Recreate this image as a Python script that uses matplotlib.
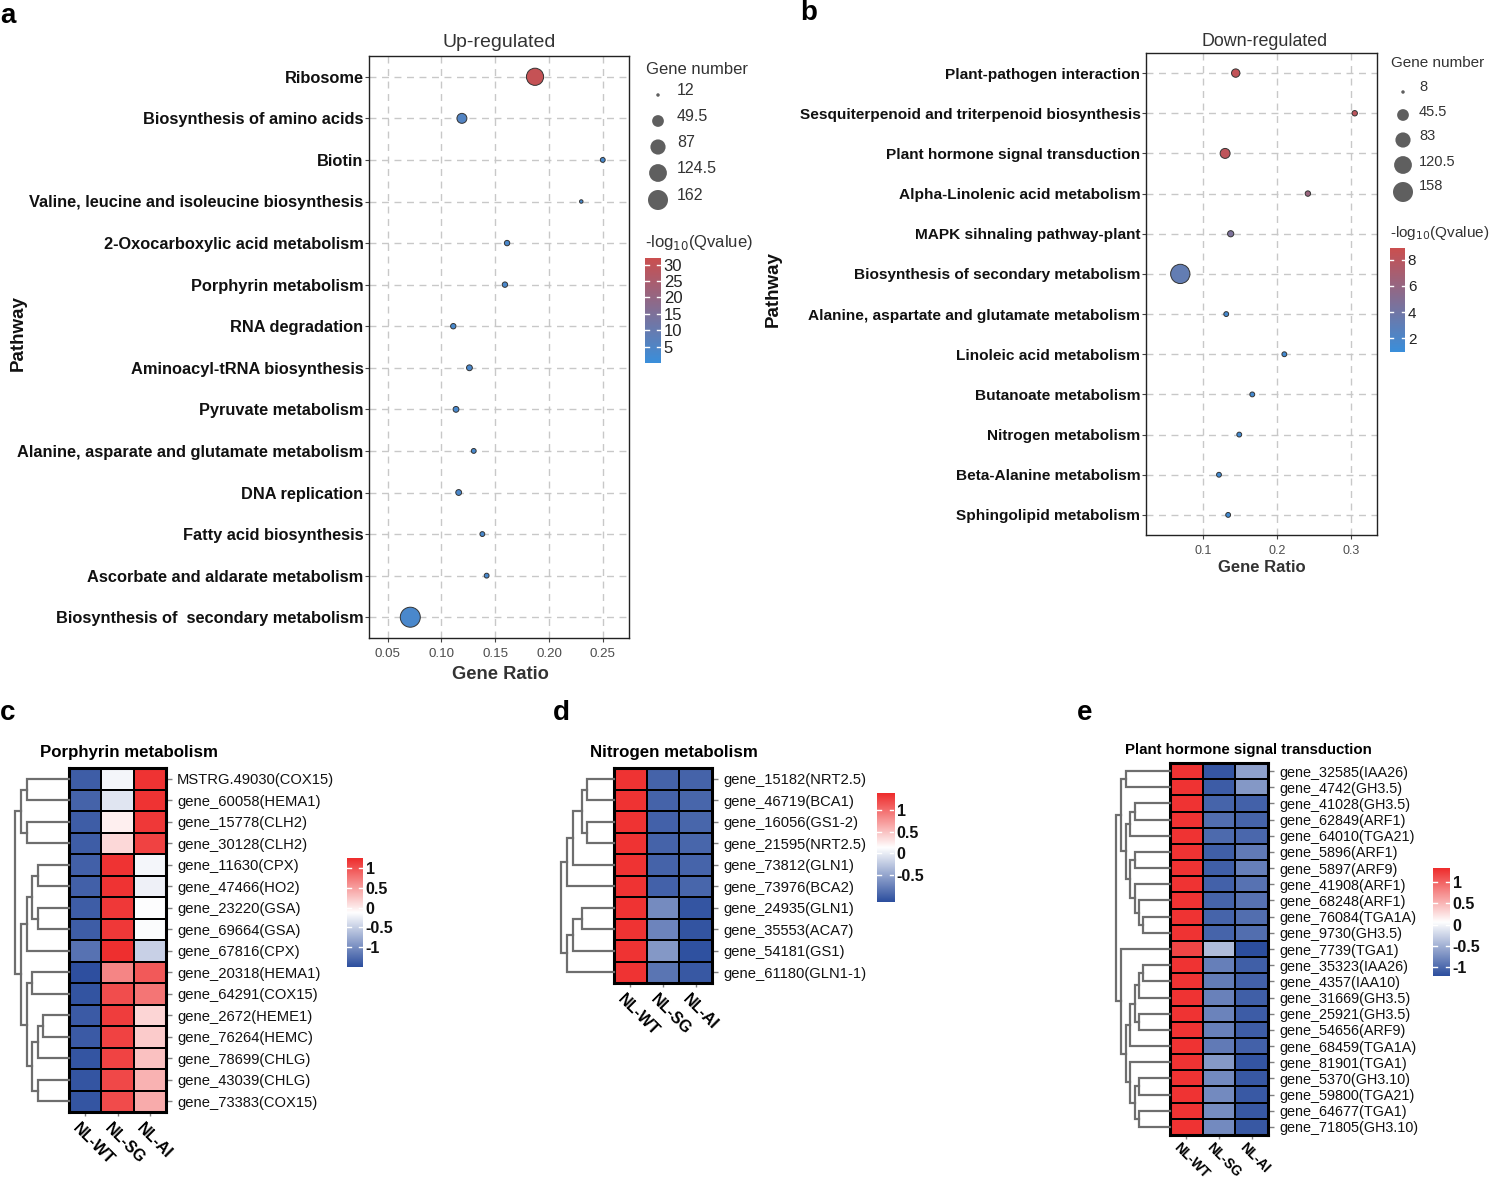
import matplotlib as mpl
import matplotlib.pyplot as plt
import numpy as np
from matplotlib.colors import LinearSegmentedColormap, Normalize

plt.rcParams['font.family'] = ['Liberation Sans', 'DejaVu Sans']

# ---------------- data: KEGG enrichment bubbles ----------------
up_terms = ['Ribosome', 'Biosynthesis of amino acids', 'Biotin',
            'Valine, leucine and isoleucine biosynthesis',
            '2-Oxocarboxylic acid metabolism', 'Porphyrin metabolism',
            'RNA degradation', 'Aminoacyl-tRNA biosynthesis',
            'Pyruvate metabolism', 'Alanine, asparate and glutamate metabolism',
            'DNA replication', 'Fatty acid biosynthesis',
            'Ascorbate and aldarate metabolism',
            'Biosynthesis of  secondary metabolism']
up_ratio = [0.187, 0.119, 0.250, 0.230, 0.161, 0.159, 0.111, 0.126,
            0.1135, 0.130, 0.116, 0.138, 0.142, 0.071]
up_count = [115, 35, 13, 12, 14, 14, 14, 15, 15, 13, 15, 13, 13, 162]
up_q = [30.5, 5.5, 3.0, 2.5, 3.5, 3.5, 3.0, 3.5, 3.0, 3.0, 3.5, 3.0, 3.0, 3.5]
up_size_breaks = [12, 49.5, 87, 124.5, 162]

down_terms = ['Plant-pathogen interaction',
              'Sesquiterpenoid and triterpenoid biosynthesis',
              'Plant hormone signal transduction',
              'Alpha-Linolenic acid metabolism',
              'MAPK sihnaling pathway-plant',
              'Biosynthesis of secondary metabolism',
              'Alanine, aspartate and glutamate metabolism',
              'Linoleic acid metabolism', 'Butanoate metabolism',
              'Nitrogen metabolism', 'Beta-Alanine metabolism',
              'Sphingolipid metabolism']
down_ratio = [0.1438, 0.3046, 0.1295, 0.2413, 0.137, 0.0689, 0.131,
              0.2095, 0.1662, 0.1486, 0.1212, 0.1336]
down_count = [21, 10, 31, 10, 12, 145, 9, 9, 9, 9, 9, 9]
down_q = [8.4, 8.1, 8.2, 6.2, 4.6, 3.2, 1.6, 1.4, 1.5, 1.5, 1.4, 1.4]
down_size_breaks = [8, 45.5, 83, 120.5, 158]

# ---------------- data: heatmaps ----------------
samples = ['NL-WT', 'NL-SG', 'NL-AI']

por_genes = ['MSTRG.49030(COX15)', 'gene_60058(HEMA1)', 'gene_15778(CLH2)',
             'gene_30128(CLH2)', 'gene_11630(CPX)', 'gene_47466(HO2)',
             'gene_23220(GSA)', 'gene_69664(GSA)', 'gene_67816(CPX)',
             'gene_20318(HEMA1)', 'gene_64291(COX15)', 'gene_2672(HEME1)',
             'gene_76264(HEMC)', 'gene_78699(CHLG)', 'gene_43039(CHLG)',
             'gene_73383(COX15)']
por_vals = [[-1.38, -0.20, 1.20], [-1.33, -0.32, 1.20], [-1.38, -0.02, 1.17],
            [-1.38, 0.13, 1.10], [-1.35, 1.20, -0.20], [-1.35, 1.20, -0.24],
            [-1.38, 1.17, -0.14], [-1.38, 1.17, -0.15], [-1.22, 1.22, -0.48],
            [-1.48, 0.66, 0.95], [-1.45, 1.03, 0.77], [-1.40, 1.14, 0.15],
            [-1.40, 1.10, 0.21], [-1.44, 1.09, 0.28], [-1.44, 1.06, 0.37],
            [-1.44, 1.04, 0.42]]
por_merges = [(0, 1, 42.3), (2, 3, 42.3), (16, 17, 48), (4, 5, 31.3),
              (6, 7, 31.3), (19, 20, 37), (21, 8, 42.3), (9, 10, 37),
              (11, 12, 26.3), (24, 13, 31.3), (14, 15, 31.3), (25, 26, 37),
              (23, 27, 42.3), (22, 28, 48), (18, 29, 53.7)]

nit_genes = ['gene_15182(NRT2.5)', 'gene_46719(BCA1)', 'gene_16056(GS1-2)',
             'gene_21595(NRT2.5)', 'gene_73812(GLN1)', 'gene_73976(BCA2)',
             'gene_24935(GLN1)', 'gene_35553(ACA7)', 'gene_54181(GS1)',
             'gene_61180(GLN1-1)']
nit_vals = [[1.35, -0.97, -0.97], [1.35, -0.97, -0.95], [1.35, -0.98, -0.95],
            [1.35, -0.97, -0.95], [1.35, -0.97, -0.96], [1.35, -0.98, -0.95],
            [1.35, -0.68, -1.07], [1.35, -0.73, -1.08], [1.35, -0.60, -1.10],
            [1.35, -0.84, -1.05]]
nit_merges = [(0, 1, 26.7), (2, 3, 26.7), (10, 11, 32.3), (12, 4, 41),
              (13, 5, 46.7), (6, 7, 32.3), (15, 8, 41), (16, 9, 46.7),
              (14, 17, 53.3)]

hor_genes = ['gene_32585(IAA26)', 'gene_4742(GH3.5)', 'gene_41028(GH3.5)',
             'gene_62849(ARF1)', 'gene_64010(TGA21)', 'gene_5896(ARF1)',
             'gene_5897(ARF9)', 'gene_41908(ARF1)', 'gene_68248(ARF1)',
             'gene_76084(TGA1A)', 'gene_9730(GH3.5)', 'gene_7739(TGA1)',
             'gene_35323(IAA26)', 'gene_4357(IAA10)', 'gene_31669(GH3.5)',
             'gene_25921(GH3.5)', 'gene_54656(ARF9)', 'gene_68459(TGA1A)',
             'gene_81901(TGA1)', 'gene_5370(GH3.10)', 'gene_59800(TGA21)',
             'gene_64677(TGA1)', 'gene_71805(GH3.10)']
hor_wt = [1.28] * 11 + [1.17] + [1.28] * 11
hor_sg = [-1.14, -1.10, -1.04, -0.97, -1.00, -1.08, -1.08, -1.06, -1.04,
          -1.04, -1.04, -0.42, -0.85, -0.87, -0.83, -0.82, -0.84, -0.88,
          -0.66, -0.77, -0.77, -0.75, -0.77]
hor_ai = [-0.60, -0.67, -1.06, -1.04, -1.02, -0.88, -0.85, -0.94, -0.94,
          -0.97, -0.97, -1.20, -1.08, -1.06, -1.08, -1.10, -1.09, -1.06,
          -1.15, -1.13, -1.12, -1.13, -1.13]
hor_merges = [(0, 1, 44.3), (2, 3, 35), (24, 4, 40), (5, 6, 35), (9, 10, 26.7),
              (8, 27, 30.7), (7, 28, 35), (26, 29, 40), (25, 30, 44.3),
              (23, 31, 49), (12, 13, 26.7), (33, 14, 30.7), (15, 16, 30.7),
              (34, 35, 35), (36, 17, 40), (19, 20, 30.7), (21, 22, 30.7),
              (38, 39, 35), (18, 40, 40), (37, 41, 44.3), (11, 42, 49.3),
              (32, 43, 54)]

# ---------------- figure helpers ----------------
W, H = 1489, 1183
fig = plt.figure(figsize=(W / 100, H / 100), dpi=100)

def box(x0, y0, x1, y1):
    return fig.add_axes([x0 / W, 1 - y1 / H, (x1 - x0) / W, (y1 - y0) / H])

ov = fig.add_axes([0, 0, 1, 1], zorder=10)
ov.set_xlim(0, W)
ov.set_ylim(H, 0)
ov.axis('off')

q_cmap = LinearSegmentedColormap.from_list('q', ['#3A8FDB', '#CB4F4F'])
hm_cmap = LinearSegmentedColormap.from_list('hm', ['#2C4E9E', '#FFFFFF', '#EE2C2C'])

def bubble_s(v, vmin, vmax):
    v = np.asarray(v, dtype=float)
    d = 3.5 + 16.5 * np.sqrt((v - vmin) / (vmax - vmin))
    return (d * 0.72) ** 2

def cbar(x0, y0, x1, y1, cmap, lo, hi, ticks, fs, weight, color):
    cax = box(x0, y0, x1, y1)
    g = np.linspace(lo, hi, 256).reshape(-1, 1)
    cax.imshow(g, aspect='auto', cmap=cmap, norm=Normalize(lo, hi),
               origin='lower', extent=(0, 1, lo, hi))
    for t in ticks:
        cax.plot([0, 0.22], [t, t], color='white', lw=1)
        cax.plot([0.78, 1], [t, t], color='white', lw=1)
    cax.set_xlim(0, 1)
    cax.set_ylim(lo, hi)
    cax.set_xticks([])
    cax.yaxis.tick_right()
    cax.set_yticks(ticks)
    cax.set_yticklabels([('%g' % t) for t in ticks], fontsize=fs,
                        fontweight=weight, color=color)
    cax.tick_params(axis='y', length=0, pad=2)
    for s in cax.spines.values():
        s.set_visible(False)
    return cax

def bubble_panel(rect, terms, ratio, count, q, breaks, xlim, xticks, qlim,
                 lab_fs, tick_fs, fmt):
    ax = box(*rect)
    n = len(terms)
    y = np.arange(n, 0, -1)
    ax.scatter(ratio, y, s=bubble_s(count, breaks[0], breaks[-1]), c=q,
               cmap=q_cmap, vmin=qlim[0], vmax=qlim[1], edgecolors='#333333',
               linewidths=0.7, zorder=3)
    ax.set_xlim(*xlim)
    ax.set_ylim(0.5, n + 0.5)
    ax.set_yticks(y)
    ax.set_yticklabels(terms, fontsize=lab_fs, fontweight='bold', color='#111111')
    ax.set_xticks(xticks)
    ax.set_xticklabels([fmt % t for t in xticks], fontsize=tick_fs, color='#4d4d4d')
    ax.tick_params(axis='both', length=3, color='#444444', width=0.8)
    ax.tick_params(axis='x', pad=4)
    ax.tick_params(axis='y', pad=1)
    ax.grid(True, ls=(0, (5, 4)), color='#c8c8c8', lw=1)
    ax.set_axisbelow(True)
    for s in ax.spines.values():
        s.set_color('#222222')
        s.set_linewidth(1.0)
    return ax

def size_legend(cx, ys, tx, tys, breaks, fs):
    ov.scatter([cx] * len(breaks), ys, s=bubble_s(breaks, breaks[0], breaks[-1]),
               color='#5f5f5f', edgecolors='none')
    for t, yy in zip(breaks, tys):
        ov.text(tx, yy, '%g' % t, fontsize=fs, color='#333333', va='center', ha='left')

def dendro(ax, merges, n):
    pos = {i: i + 0.5 for i in range(n)}
    hgt = {i: 0.0 for i in range(n)}
    for k, (a, b, h) in enumerate(merges):
        ya, yb = pos[a], pos[b]
        ax.plot([hgt[a], h, h, hgt[b]], [ya, ya, yb, yb], color='#6e6e6e',
                lw=1.6, solid_joinstyle='miter', clip_on=False)
        pos[n + k] = (ya + yb) / 2
        hgt[n + k] = h

def heatmap(rect, dleft, vals, genes, lo, hi, merges, cb_rect, cb_ticks, lab_fs,
            col_fs=11.5, col_pad=3):
    x0, y0, x1, y1 = rect
    ax = box(*rect)
    n = len(genes)
    ax.pcolormesh(np.arange(4), np.arange(n + 1), np.array(vals), cmap=hm_cmap,
                  norm=Normalize(lo, hi), edgecolors='black', linewidth=1.3)
    ax.set_xlim(0, 3)
    ax.set_ylim(n, 0)
    ax.yaxis.tick_right()
    ax.set_yticks(np.arange(n) + 0.5)
    ax.set_yticklabels(genes, fontsize=lab_fs, color='#111111')
    ax.tick_params(axis='y', length=4, color='#808080', width=1, pad=4)
    ax.set_xticks(np.arange(3) + 0.5)
    ax.set_xticklabels(samples, rotation=-45, ha='left', va='top',
                       rotation_mode='anchor', fontsize=col_fs, fontweight='bold')
    ax.tick_params(axis='x', length=3, color='#808080', width=1, pad=col_pad)
    shift = mpl.transforms.ScaledTranslation(-5 / 100, 0, fig.dpi_scale_trans)
    for lbl in ax.get_xticklabels():
        lbl.set_transform(lbl.get_transform() + shift)
    for s in ax.spines.values():
        s.set_linewidth(2.2)
    dax = box(dleft, y0, x0, y1)
    dendro(dax, merges, n)
    dax.set_xlim(x0 - dleft, 0)
    dax.set_ylim(n, 0)
    dax.axis('off')
    cbar(*cb_rect, hm_cmap, lo, hi, cb_ticks, 11.5, 'bold', '#111111')
    return ax

# ---------------- panel a ----------------
bubble_panel((369, 56, 629, 638), up_terms, up_ratio, up_count, up_q,
             up_size_breaks, (0.0326, 0.2744), [0.05, 0.10, 0.15, 0.20, 0.25],
             (0, 32), 11.8, 9.6, '%.2f')
ov.text(499, 42, 'Up-regulated', fontsize=14, color='#333333', ha='center', va='center')
ov.text(500, 674, 'Gene Ratio', fontsize=13.2, fontweight='bold', color='#333333',
        ha='center', va='center')
ov.text(18, 333, 'Pathway', fontsize=13.5, fontweight='bold', color='#111111',
        ha='center', va='center', rotation=90)
ov.text(646, 69, 'Gene number', fontsize=12, color='#333333', ha='left', va='center')
size_legend(658, [95, 121, 147, 173, 200], 677, [90, 116, 142, 168, 195],
            up_size_breaks, 11.5)
ov.text(645, 242, '-log$_{10}$(Qvalue)', fontsize=12, color='#333333', ha='left', va='center')
cbar(645, 258, 661, 363, q_cmap, 0, 32, [5, 10, 15, 20, 25, 30], 12, 'normal', '#222222')

# ---------------- panel b ----------------
bubble_panel((1146, 53, 1377, 535), down_terms, down_ratio, down_count, down_q,
             down_size_breaks, (0.0226, 0.3347), [0.1, 0.2, 0.3],
             (0.95, 8.9), 11.1, 9.0, '%g')
ov.text(1265, 41, 'Down-regulated', fontsize=12.9, color='#333333', ha='center', va='center')
ov.text(1262, 567, 'Gene Ratio', fontsize=12, fontweight='bold', color='#333333',
        ha='center', va='center')
ov.text(773, 289, 'Pathway', fontsize=13.5, fontweight='bold', color='#111111',
        ha='center', va='center', rotation=90)
ov.text(1391, 63, 'Gene number', fontsize=11, color='#333333', ha='left', va='center')
size_legend(1403, [92, 115, 140, 165, 192], 1419, [87, 112, 136, 162, 186],
            down_size_breaks, 10.5)
ov.text(1390, 233, '-log$_{10}$(Qvalue)', fontsize=11, color='#333333', ha='left', va='center')
cbar(1390, 248, 1405, 352, q_cmap, 0.95, 8.9, [2, 4, 6, 8], 11, 'normal', '#222222')

# ---------------- panels c, d, e ----------------
heatmap((69, 768, 166, 1112), 12, por_vals, por_genes, -1.5, 1.25, por_merges,
        (347, 858, 363, 967), [-1, -0.5, 0, 0.5, 1], 10.6)
ov.text(40, 752, 'Porphyrin metabolism', fontsize=12.2, fontweight='bold',
        ha='left', va='center')

heatmap((614, 768, 712, 983), 558, nit_vals, nit_genes, -1.12, 1.39, nit_merges,
        (877, 793, 894, 902), [-0.5, 0, 0.5, 1], 10.6)
ov.text(590, 752, 'Nitrogen metabolism', fontsize=12.2, fontweight='bold',
        ha='left', va='center')

hor_vals = np.column_stack([hor_wt, hor_sg, hor_ai])
heatmap((1170, 763, 1268, 1135), 1114, hor_vals, hor_genes, -1.2, 1.32, hor_merges,
        (1433, 868, 1450, 976), [-1, -0.5, 0, 0.5, 1], 10.4, col_fs=9.8, col_pad=0.5)
ov.text(1125, 750, 'Plant hormone signal transduction', fontsize=10.8,
        fontweight='bold', ha='left', va='center')

# ---------------- panel letters ----------------
for lab, x, y in [('a', 0, 16), ('b', 800, 13), ('c', 0, 713), ('d', 553, 713),
                  ('e', 1077, 713)]:
    ov.text(x, y, lab, fontsize=20, fontweight='bold', ha='left', va='center')

fig.savefig('out.png', dpi=100)
